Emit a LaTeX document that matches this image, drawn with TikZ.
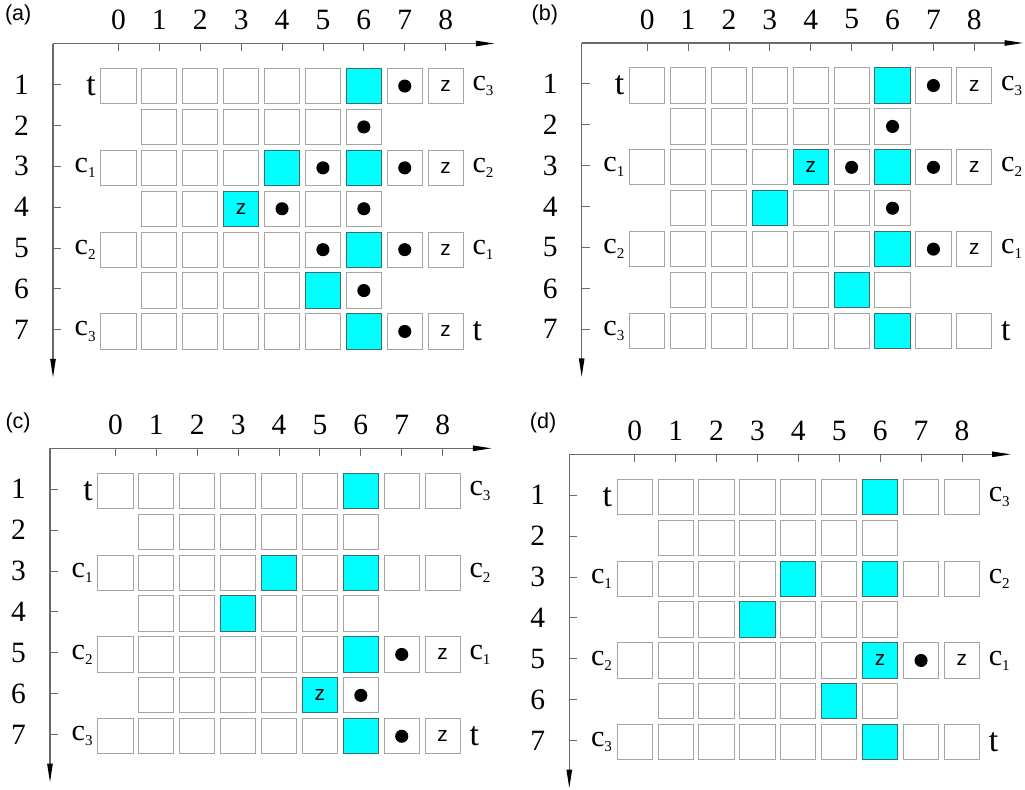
\documentclass[tikz,border=0pt]{standalone}
\usepackage{fontspec}
\setmainfont{Liberation Serif}
\newfontfamily\sansfont{Liberation Sans}
\usepackage{tikz}
\usetikzlibrary{arrows.meta}

\definecolor{axisgray}{RGB}{105,105,105}
\definecolor{celledge}{RGB}{165,165,165}
\definecolor{hotedge}{RGB}{60,110,110}
\definecolor{hotfill}{RGB}{0,255,255}

\newcommand{\csub}[1]{c\raisebox{-3.5pt}{\fontsize{10.5}{12}\selectfont #1}}
\newcommand{\tmark}{{\fontsize{23.5}{26}\selectfont t}}

% one panel: name, origin (axis corner), tag letter, tag position
\newcommand{\gridpanel}[4]{%
  \begin{scope}[shift={#2}]
    % axes
    \coordinate (#1-o) at (0,0);
    \coordinate (#1-xend) at (10.8,0);
    \coordinate (#1-yend) at (0,-8.17);
    \draw[axis] (#1-o) -- (#1-xend);
    \draw[axis] (#1-o) -- (#1-yend);
    \node[tag] (#1-tag) at #4 {(#3)};
    \foreach \c in {0,...,8} {
      \draw[tick] (\c+1.6,0) -- ++(0,-0.19);
      \node[num] (#1-col\c) at (\c+1.6,0.575) {\c};
    }
    \foreach \r in {1,...,7} {
      \draw[tick] (0,-\r) -- ++(0.2,0);
      \node[num] (#1-row\r) at (-0.77,-\r) {\r};
    }
    % cells
    \foreach \r in {1,3,5,7}
      \foreach \c in {0,...,8}
        \node[cell] (#1-\r-\c) at (\c+1.6,-\r-0.04) {};
    \foreach \r in {2,4,6}
      \foreach \c in {1,...,6}
        \node[cell] (#1-\r-\c) at (\c+1.6,-\r-0.04) {};
    \foreach \r/\c in {1/6,3/4,3/6,4/3,5/6,6/5,7/6}
      \node[hot] (#1-\r-\c) at (\c+1.6,-\r-0.04) {};
    % row ends
    \foreach \r/\lft/\rgt in {1/{\tmark}/{\csub{3}}, 3/{\csub{1}}/{\csub{2}},
                              5/{\csub{2}}/{\csub{1}}, 7/{\csub{3}}/{\tmark}} {
      \node[side, anchor=east] (#1-left\r) at (1.05,-\r-0.04) {\lft};
      \node[side, anchor=west] (#1-right\r) at (10.25,-\r-0.04) {\rgt};
    }
  \end{scope}}

\tikzset{
  axis/.style={draw=axisgray, line width=1pt,
    -{Triangle[length=4.6mm, width=1.3mm, color=black]}},
  tick/.style={draw=axisgray, line width=0.6pt},
  cell/.style={draw=celledge, line width=0.7pt, minimum size=0.86cm, inner sep=0pt},
  hot/.style={cell, draw=hotedge, fill=hotfill},
  num/.style={font=\fontsize{20.5}{23}\selectfont, inner sep=0pt},
  side/.style={font=\fontsize{21}{23}\selectfont, inner sep=0pt},
  tag/.style={font=\sansfont\fontsize{15}{17}\selectfont, inner sep=0pt},
  zmark/.style={font=\sansfont\fontsize{14.5}{16}\selectfont, inner sep=0pt},
  dot/.style={circle, fill=black, minimum size=0.32cm, inner sep=0pt},
}

\begin{document}
\begin{tikzpicture}
  \useasboundingbox (0,0) rectangle (25.061,-19.291);

  \gridpanel{a}{(1.296,-1.064)}{a}{(-0.85,0.70)}
  \gridpanel{b}{(14.222,-1.051)}{b}{(-0.90,0.68)}
  \gridpanel{c}{(1.222,-10.961)}{c}{(-0.78,0.61)}
  \gridpanel{d}{(13.919,-11.108)}{d}{(-0.64,0.76)}

  % (a)
  \foreach \r/\c in {1/7,2/6,3/5,3/7,4/4,4/6,5/5,5/7,6/6,7/7}
    \node[dot] (a-dot\r-\c) at (a-\r-\c) {};
  \foreach \r/\c in {1/8,3/8,4/3,5/8,7/8}
    \node[zmark] (a-z\r-\c) at (a-\r-\c) {z};

  % (b)
  \foreach \r/\c in {1/7,2/6,3/5,3/7,4/6,5/7}
    \node[dot] (b-dot\r-\c) at (b-\r-\c) {};
  \foreach \r/\c in {1/8,3/4,3/8,5/8}
    \node[zmark] (b-z\r-\c) at (b-\r-\c) {z};

  % (c)
  \foreach \r/\c in {5/7,6/6,7/7}
    \node[dot] (c-dot\r-\c) at (c-\r-\c) {};
  \foreach \r/\c in {5/8,6/5,7/8}
    \node[zmark] (c-z\r-\c) at (c-\r-\c) {z};

  % (d)
  \node[dot] (d-dot5-7) at (d-5-7) {};
  \foreach \r/\c in {5/6,5/8}
    \node[zmark] (d-z\r-\c) at (d-\r-\c) {z};
\end{tikzpicture}
\end{document}
